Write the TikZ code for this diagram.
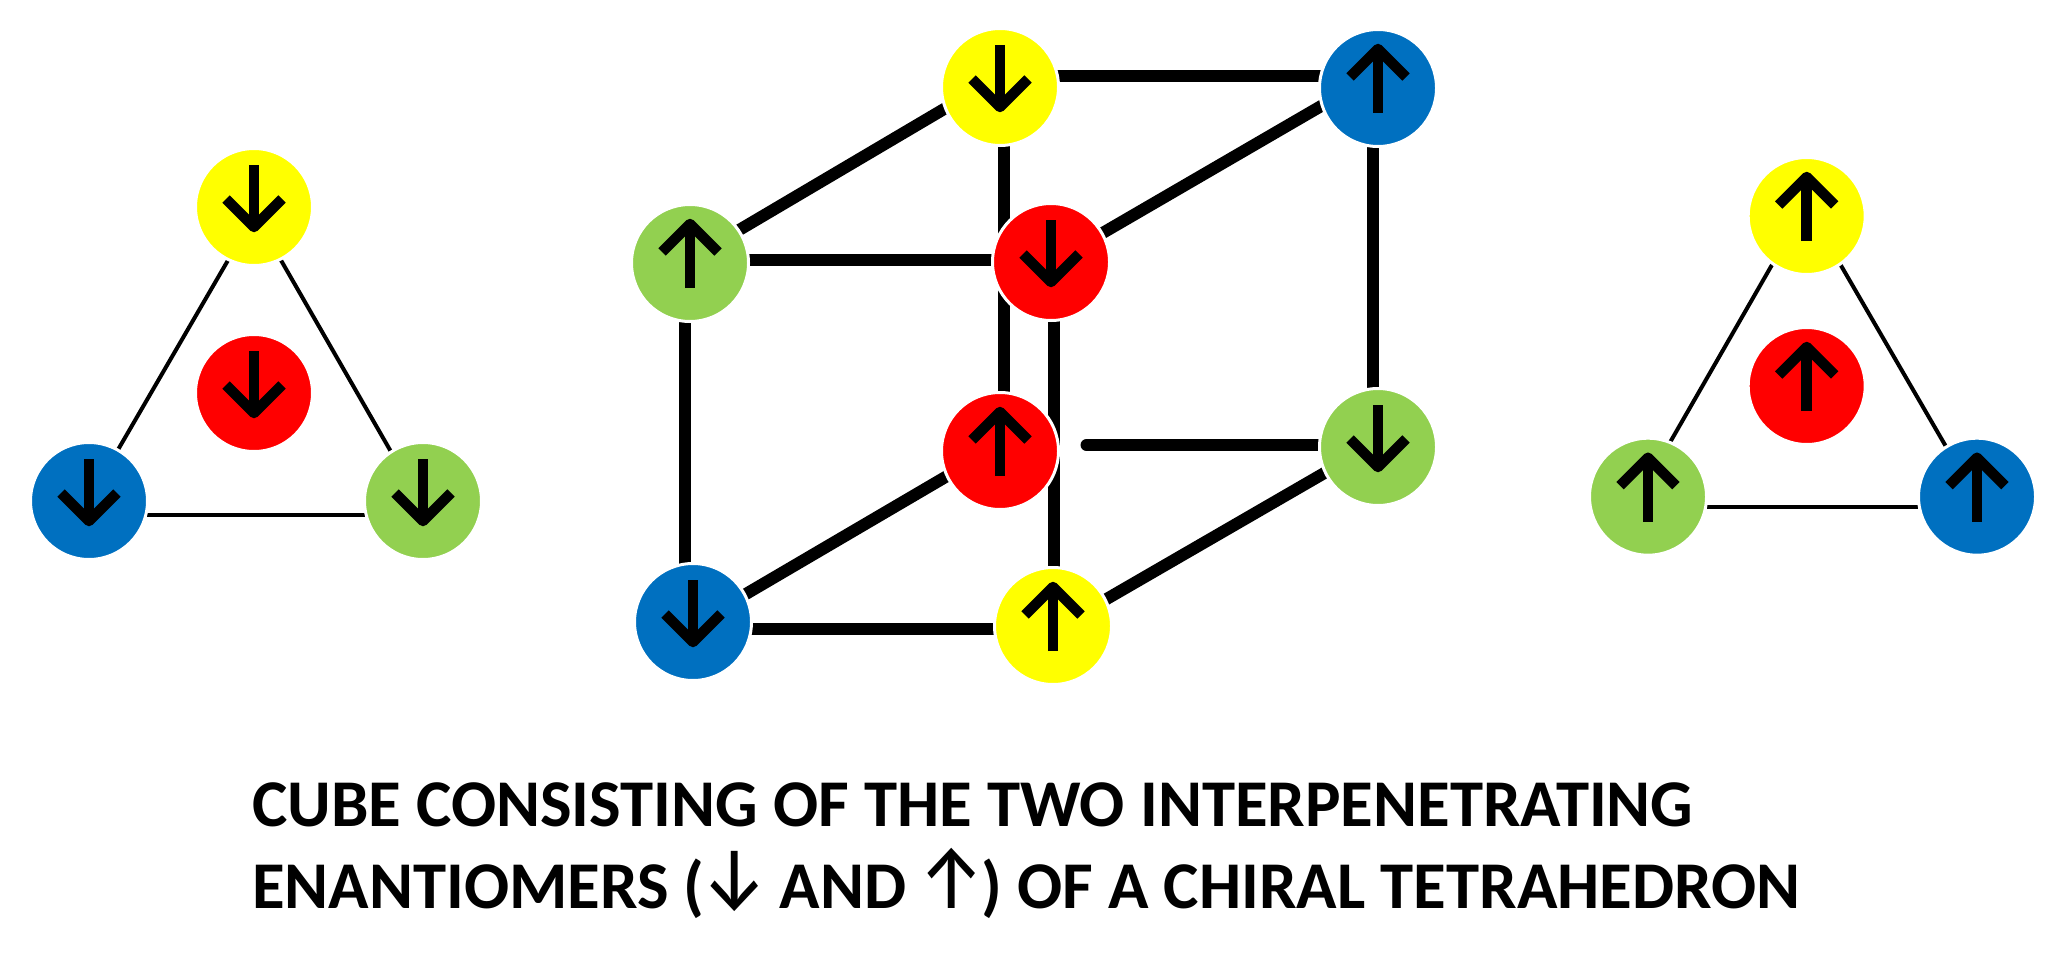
\documentclass[tikz,border=0pt]{standalone}
\usepackage{fontspec}
\setmainfont{Carlito}
\newfontfamily\arrowfont{Fira Sans}
\definecolor{ballyellow}{HTML}{FFFF00}
\definecolor{ballblue}{HTML}{0070C0}
\definecolor{ballgreen}{HTML}{92D050}
\definecolor{ballred}{HTML}{FF0000}
\newcommand{\glyphbox}[1]{\makebox[60pt][c]{\scalebox{.76}[.9]{\arrowfont\mdseries\fontsize{100}{100}\selectfont #1}}}
\tikzset{
  ball/.style={circle,draw=white,line width=3pt,minimum size=117pt,inner sep=0pt,outer sep=0pt},
  thick edge/.style={line width=12pt,black},
  thin edge/.style={line width=4pt,black},
  caption/.style={anchor=base west,inner sep=0pt,font=\bfseries\fontsize{66.8}{67}\selectfont},
  spin/.style={line width=10.5pt,line cap=butt,line join=round,black},
  dn/.pic={\draw[spin] (0,-42)--(0,20); \draw[spin] (-28,-8)--(0,20)--(28,-8);},
  up/.pic={\draw[spin] (0,25)--(0,-39); \draw[spin] (-28,-11)--(0,-39)--(28,-11);}
}
\begin{document}
\begin{tikzpicture}[x=1pt,y=-1pt]
\useasboundingbox (0,0) rectangle (2064,963);
\coordinate (LY) at (254,207);\coordinate (LR) at (254,393);\coordinate (LB) at (89,501);\coordinate (LG) at (423,501);
\coordinate (RY) at (1806.7,216);\coordinate (RR) at (1806.7,386);\coordinate (RG) at (1648,496.7);\coordinate (RB) at (1977,496.7);
\coordinate (YT) at (1000,87);\coordinate (BT) at (1378,88);\coordinate (GL) at (690,263);\coordinate (RF) at (1051,262);
\coordinate (RK) at (1000,451);\coordinate (GR) at (1378,447);\coordinate (BL) at (693,622);\coordinate (YB) at (1053,626);
% left triangle
\draw[thin edge] ([shift={(0,-1.3)}]LB) -- ([shift={(0,8.5)}]LY);
\draw[thin edge] ([shift={(0,6.3)}]LY) -- ([shift={(0,6.4)}]LG);
\draw[thin edge] ([shift={(0,14)}]LB) -- ([shift={(0,14)}]LG);
% right triangle
\draw[thin edge] ([shift={(0,-16)}]RG) -- ([shift={(0,-11.6)}]RY);
\draw[thin edge] ([shift={(0,-9.6)}]RY) -- ([shift={(0,3.4)}]RB);
\draw[thin edge] ([shift={(0,10)}]RG) -- ([shift={(0,10)}]RB);
% cube
\draw[thick edge] ([shift={(0,-11)}]YT) -- ([shift={(0,-12)}]BT);
\draw[thick edge] ([shift={(0,-4)}]GL) -- ([shift={(0,-11)}]YT);
\draw[thick edge] ([shift={(0,1)}]RF) -- ([shift={(0,-15)}]BT);
\draw[thick edge] ([shift={(3.6,0)}]YT) -- ([shift={(3.6,0)}]RK);
\draw[thick edge] ([shift={(-5,0)}]BT) -- ([shift={(-5,0)}]GR);
\draw[thick edge] ([shift={(0,-3)}]GL) -- ([shift={(0,-2)}]RF);
\draw[thick edge] ([shift={(-5,0)}]GL) -- ([shift={(-8,0)}]BL);
\draw[thick edge] ([shift={(2.5,0)}]RF) -- ([shift={(.5,0)}]YB);
\draw[thick edge,line cap=round,shorten >=86.5pt] ([shift={(0,-2)}]GR) -- ([shift={(0,-6)}]RK);
\draw[thick edge] ([shift={(0,3)}]BL) -- ([shift={(0,-6)}]RK);
\draw[thick edge] ([shift={(0,4)}]YB) -- ([shift={(0,-5)}]GR);
\draw[thick edge] ([shift={(0,6.6)}]BL) -- ([shift={(0,2.6)}]YB);
% balls
\foreach \n/\c/\p in {LY/ballyellow/dn,LR/ballred/dn,LB/ballblue/dn,LG/ballgreen/dn,
  RY/ballyellow/up,RR/ballred/up,RG/ballgreen/up,RB/ballblue/up,
  YT/ballyellow/dn,BT/ballblue/up,GL/ballgreen/up,GR/ballgreen/dn,
  BL/ballblue/dn,YB/ballyellow/up,RK/ballred/up,RF/ballred/dn}{
  \node[ball,fill=\c] (n\n) at (\n) {};
  \pic at (n\n) {\p};
}
\node[caption] (line one) at (252,826) {CUBE CONSISTING OF THE TWO INTERPENETRATING};
\node[caption] (line two) at (252,908) {ENANTIOMERS (\glyphbox{↓} AND \glyphbox{↑}) OF A CHIRAL TETRAHEDRON};
\end{tikzpicture}
\end{document}
